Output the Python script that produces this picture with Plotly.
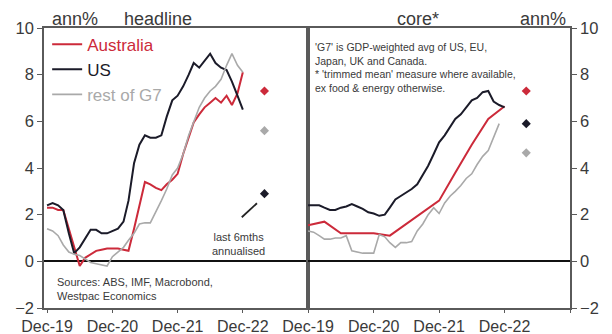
import pandas as pd
import plotly.graph_objects as go

# ---- data (annual % change) ----
months = pd.date_range("2019-12-01", "2022-12-01", freq="MS")
quarters = pd.date_range("2019-12-01", "2022-12-01", freq="3MS")
latest = pd.Timestamp("2023-04-01")  # where the 6-month annualised readings sit

series_names = ["Australia", "US", "rest of G7"]
series_colors = ["#cc2a3a", "#1b1b29", "#a9a9a9"]

headline_aus = [2.3, 2.3, 2.2, 2.2, 1.4, 0.6, -0.2, 0.15, 0.3, 0.45, 0.5, 0.55, 0.55,
                0.55, 0.5, 0.45, 1.4, 2.4, 3.4, 3.3, 3.15, 3.05, 3.3, 3.5, 3.75,
                4.6, 5.3, 5.95, 6.3, 6.6, 6.8, 7.0, 6.8, 7.1, 6.7, 7.2, 8.1]
headline_us = [2.4, 2.5, 2.4, 2.2, 1.2, 0.35, 0.6, 1.0, 1.35, 1.35, 1.2, 1.2, 1.3,
               1.4, 1.7, 2.6, 4.2, 5.0, 5.4, 5.3, 5.3, 5.4, 6.2, 6.9, 7.1,
               7.5, 8.0, 8.5, 8.3, 8.6, 8.9, 8.5, 8.3, 8.2, 7.7, 7.1, 6.5]
headline_g7 = [1.4, 1.3, 1.1, 0.7, 0.4, 0.3, 0.25, 0.1, -0.05, -0.1, -0.15, -0.2, 0.2,
               0.4, 0.6, 0.9, 1.2, 1.6, 1.65, 1.65, 2.1, 2.6, 3.1, 3.7, 4.0,
               4.6, 5.4, 6.0, 6.6, 7.0, 7.3, 7.5, 7.8, 8.4, 8.9, 8.4, 8.1]

core_aus = [1.55, 1.7, 1.2, 1.2, 1.2, 1.1, 1.6, 2.1, 2.6, 3.8, 5.0, 6.1, 6.65]  # quarterly
core_us = [2.4, 2.4, 2.4, 2.3, 2.2, 2.2, 2.3, 2.35, 2.45, 2.35, 2.25, 2.1, 2.05,
           1.95, 2.0, 2.3, 2.65, 2.8, 2.95, 3.1, 3.3, 3.7, 4.1, 4.6, 5.1,
           5.4, 5.8, 6.1, 6.3, 6.6, 6.9, 7.0, 7.25, 7.3, 6.85, 6.7, 6.6]
core_g7 = [1.3, 1.25, 1.1, 0.95, 0.95, 1.0, 1.0, 1.1, 0.45, 0.4, 0.35, 0.35, 0.35,
           1.15, 1.05, 0.8, 0.6, 0.8, 0.8, 0.85, 1.3, 1.6, 2.0, 2.3, 2.05,
           2.5, 2.8, 3.0, 3.25, 3.55, 3.75, 4.15, 4.5, 4.75, 5.3, 5.9]  # to Nov-22

headline_6m = [7.3, 2.9, 5.6]   # last 6 months annualised: Australia, US, rest of G7
core_6m = [7.3, 5.9, 4.65]

tick_dates = pd.date_range("2019-12-01", "2023-12-01", freq="12MS")
tick_text = [d.strftime("Dec-%y") for d in tick_dates[:-1]] + [""]

FONT = "Liberation Sans, Arial, sans-serif"
TXT = "#3a3a3a"
AX = "#5a5a5a"

fig = go.Figure()

panels = [
    ("x", "y", [(months, headline_aus), (months, headline_us), (months, headline_g7)], headline_6m, True),
    ("x2", "y2", [(quarters, core_aus), (months, core_us), (months[:len(core_g7)], core_g7)], core_6m, False),
]
widths = [2.0, 2.0, 1.6]
for xa, ya, lines, six_m, show in panels:
    for (xs, ys), name, col, w in zip(lines, series_names, series_colors, widths):
        fig.add_trace(go.Scatter(
            x=xs, y=ys, xaxis=xa, yaxis=ya, mode="lines",
            line=dict(color=col, width=w),
            name=f"<span style='color:{col}'>{name}</span>",
            showlegend=show,
        ))
    fig.add_trace(go.Scatter(
        x=[latest] * len(six_m), y=six_m, xaxis=xa, yaxis=ya, mode="markers",
        marker=dict(symbol="diamond", size=7, color=series_colors),
        showlegend=False, hoverinfo="y",
    ))

common_x = dict(
    type="date", tickvals=tick_dates, ticktext=tick_text, ticks="outside", ticklen=3,
    tickcolor=AX, showline=True, linecolor=AX, linewidth=1.5, mirror=True,
    showgrid=False, zeroline=False, automargin=False,
    tickfont=dict(size=16, color=TXT, family=FONT),
)
common_y = dict(
    range=[-2, 10], tickvals=list(range(-2, 11, 2)), ticks="outside", ticklen=5,
    tickcolor=AX, showline=True, linecolor=AX, linewidth=1.5, mirror=True,
    showgrid=False, zeroline=True, zerolinecolor="#111111", zerolinewidth=2,
    automargin=False, tickfont=dict(size=16.5, color=TXT, family=FONT),
)

fig.update_layout(
    width=612, height=334,
    margin=dict(l=44, r=42, t=28, b=26, autoexpand=False),
    paper_bgcolor="white", plot_bgcolor="white",
    font=dict(family=FONT, color=TXT),
    xaxis=dict(domain=[0, 0.502], range=["2019-11-14", "2023-12-01"], anchor="y", **common_x),
    xaxis2=dict(domain=[0.502, 1], range=["2019-12-01", "2023-12-01"], anchor="y2", **common_x),
    yaxis=dict(anchor="x", side="left", **common_y),
    yaxis2=dict(anchor="x2", side="right", **common_y),
    legend=dict(x=0.006, y=1.005, xanchor="left", yanchor="top", bgcolor="rgba(0,0,0,0)",
                font=dict(size=17, family=FONT), itemwidth=30, tracegroupgap=0),
    showlegend=True,
)

def note(text, x, y, size, xanchor="left", yanchor="middle", align="left"):
    fig.add_annotation(text=text, x=x, y=y, xref="paper", yref="paper", showarrow=False,
                       xanchor=xanchor, yanchor=yanchor, align=align,
                       font=dict(size=size, color=TXT, family=FONT))

note("ann%", 0.0114, 1.032, 18)
note("headline", 0.148, 1.032, 18)
note("core*", 0.711, 1.032, 18, xanchor="center")
note("ann%", 0.996, 1.032, 18, xanchor="right")
note("'G7' is GDP-weighted avg of US, EU,<br>Japan, UK and Canada.<br>"
     "* 'trimmed mean' measure where available,<br>ex food &amp; energy otherwise.",
     0.511, 0.962, 10.5, yanchor="top")
note("Sources: ABS, IMF, Macrobond,<br>Westpac Economics", 0.0209, 0.12, 11, yanchor="top")
note("last 6mths<br>annualised", 0.369, 0.282, 11, xanchor="center", yanchor="top", align="center")

# pointer from the note up to the US 6-month reading
fig.add_shape(type="line", xref="x", yref="y",
              x0="2022-11-25", y0=1.89, x1="2023-02-18", y1=2.49,
              line=dict(color="#222222", width=1.8))

fig.write_html("out.html")
